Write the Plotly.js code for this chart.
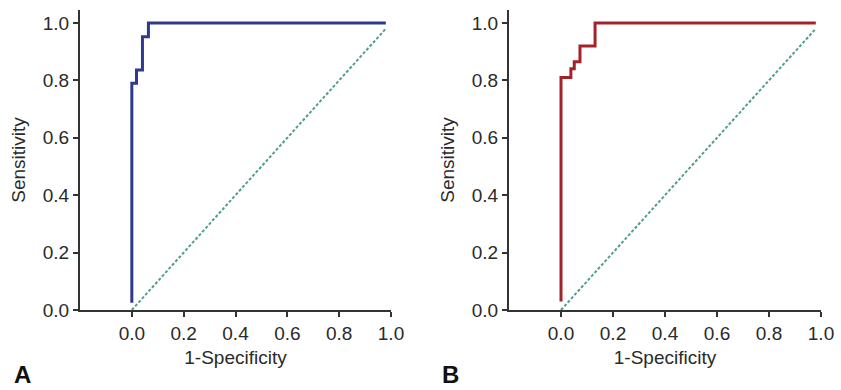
<!DOCTYPE html>
<html>
<head>
<meta charset="utf-8">
<script src="https://cdn.plot.ly/plotly-3.0.1.min.js"></script>
<style>html,body{margin:0;padding:0;background:#fff;}#chart{width:841px;height:390px;}</style>
</head>
<body>
<div id="chart"></div>
<script>
// Panel A ROC curve
const fprA = [0, 0, 0.018, 0.041, 0.064, 0.98];
const tprA = [0.025, 0.79, 0.836, 0.952, 1.0, 1.0];
// Panel B ROC curve
const fprB = [0, 0, 0.038, 0.051, 0.073, 0.131, 0.98];
const tprB = [0.03, 0.81, 0.84, 0.865, 0.92, 1.0, 1.0];
// Reference diagonal
const diagX = [0, 0.98];
const diagY = [0, 0.98];
const xTicks = [0, 0.2, 0.4, 0.6, 0.8, 1.0];
const yTicks = [0, 0.2, 0.4, 0.6, 0.8, 1.0];
const panelLabels = ["A", "B"];

const FONT = "Liberation Sans, Arial, sans-serif";
const traces = [
  {x: diagX, y: diagY, xaxis: 'x', yaxis: 'y', mode: 'lines', line: {color: '#4f9e8f', width: 2, dash: '3px,2px'}, hoverinfo: 'skip'},
  {x: fprA, y: tprA, xaxis: 'x', yaxis: 'y', mode: 'lines', line: {color: '#2e3a8c', width: 3, shape: 'hv'}},
  {x: diagX, y: diagY, xaxis: 'x2', yaxis: 'y2', mode: 'lines', line: {color: '#4f9e8f', width: 2, dash: '3px,2px'}, hoverinfo: 'skip'},
  {x: fprB, y: tprB, xaxis: 'x2', yaxis: 'y2', mode: 'lines', line: {color: '#a3232a', width: 3, shape: 'hv'}}
];

function xax(domain, anchor) {
  return {
    domain: domain, anchor: anchor, range: [-0.2, 1.0],
    tickvals: xTicks, tickformat: '.1f', ticks: 'outside', ticklen: 5, tickwidth: 2, tickcolor: '#333',
    showline: true, linewidth: 2, linecolor: '#333', showgrid: false, zeroline: false,
    tickfont: {family: FONT, size: 19, color: '#2a2a2a'},
    title: {text: '1-Specificity', font: {family: FONT, size: 19, color: '#2a2a2a'}, standoff: 8},
    automargin: false, fixedrange: true
  };
}
function yax(domain, anchor) {
  return {
    domain: domain, anchor: anchor, range: [0, 1.045],
    tickvals: yTicks, tickformat: '.1f', ticks: 'outside', ticklen: 5, tickwidth: 2, tickcolor: '#333',
    showline: true, linewidth: 2, linecolor: '#333', showgrid: false, zeroline: false,
    tickfont: {family: FONT, size: 19, color: '#2a2a2a'},
    title: {text: 'Sensitivity', font: {family: FONT, size: 19, color: '#2a2a2a'}, standoff: 12},
    automargin: false, fixedrange: true
  };
}
const yDom = [80/390, 380/390];
const layout = {
  width: 841, height: 390,
  margin: {l: 0, r: 0, t: 0, b: 0},
  paper_bgcolor: '#fff', plot_bgcolor: '#fff',
  showlegend: false,
  xaxis: xax([80/841, 391/841], 'y'),
  yaxis: yax(yDom, 'x'),
  xaxis2: xax([509/841, 821/841], 'y2'),
  yaxis2: yax(yDom, 'x2'),
  annotations: [
    {text: '<b>' + panelLabels[0] + '</b>', xref: 'paper', yref: 'paper', x: 12/841, y: 0, xanchor: 'left', yanchor: 'bottom', showarrow: false, font: {family: FONT, size: 24, color: '#111'}},
    {text: '<b>' + panelLabels[1] + '</b>', xref: 'paper', yref: 'paper', x: 440/841, y: 0, xanchor: 'left', yanchor: 'bottom', showarrow: false, font: {family: FONT, size: 24, color: '#111'}}
  ]
};
Plotly.newPlot('chart', traces, layout, {displayModeBar: false, staticPlot: true});
</script>
</body>
</html>
